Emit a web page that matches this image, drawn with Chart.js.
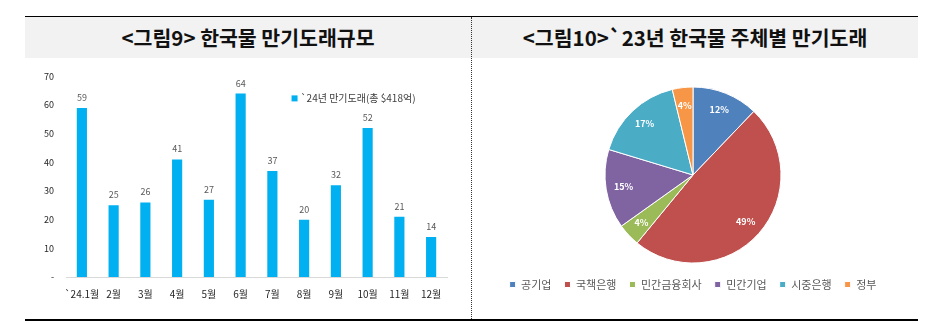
<!DOCTYPE html>
<html>
<head>
<meta charset="utf-8">
<script src="https://cdn.jsdelivr.net/npm/chart.js@4"></script>
<style>
  html, body { margin: 0; padding: 0; background: #fff; }
  body { width: 941px; height: 324px; position: relative; overflow: hidden; font-family: "Noto Sans CJK KR", sans-serif; }
  .rule-top { position: absolute; left: 25px; top: 16px; width: 893px; height: 0; border-top: 1px solid #000; }
  .rule-bottom { position: absolute; left: 25px; top: 319px; width: 893px; height: 0; border-top: 2px solid #000; }
  .band { position: absolute; left: 25px; top: 17px; width: 893px; height: 41px; background: #f2f2f2; }
  .sep { position: absolute; left: 471px; top: 17px; height: 302px; width: 0; border-left: 1px dotted #333; }
  .title { position: absolute; top: 17px; height: 41px; line-height: 41px; text-align: center;
           font-family: "Noto Sans CJK KR", sans-serif; font-weight: 700; font-size: 20.5px; color: #111; }
  #t1 { left: 25px; width: 446px; }
  #t2 { left: 472px; width: 446px; }
  .box { position: absolute; top: 59px; height: 259px; }
  #b1 { left: 25px; width: 445px; }
  #b2 { left: 472px; width: 446px; }
</style>
</head>
<body>
<div class="band"></div>
<div class="rule-top"></div>
<div class="rule-bottom"></div>
<div class="sep"></div>
<div class="title" id="t1">&lt;그림9&gt; 한국물 만기도래규모</div>
<div class="title" id="t2">&lt;그림10&gt;`23년 한국물 주체별 만기도래</div>
<div class="box" id="b1"><canvas id="barChart"></canvas></div>
<div class="box" id="b2"><canvas id="pieChart"></canvas></div>

<script>
// 그림9 - 월별 만기도래 (억달러)
const months = ['`24.1월', '2월', '3월', '4월', '5월', '6월', '7월', '8월', '9월', '10월', '11월', '12월'];
const maturity24 = [59, 25, 26, 41, 27, 64, 37, 20, 32, 52, 21, 14];
const barLegend = '`24년 만기도래(총 $418억)';
const yTicks = [0, 10, 20, 30, 40, 50, 60, 70];

// 그림10 - 주체별 비중 (%)
const issuers = ['공기업', '국책은행', '민간금융회사', '민간기업', '시중은행', '정부'];
const issuerShare = [12.2, 49.0, 4.2, 14.6, 16.6, 3.8];
const issuerColors = ['#4f81bd', '#c0504d', '#9bbb59', '#8064a2', '#4bacc6', '#f79646'];

const FONT = '"Noto Sans CJK KR", sans-serif';

// bar value labels + legend inside plot
const barLabels = {
  id: 'barLabels',
  afterDatasetsDraw(chart) {
    const ctx = chart.ctx;
    const meta = chart.getDatasetMeta(0);
    ctx.save();
    ctx.font = '9px ' + FONT;
    ctx.fillStyle = '#595959';
    ctx.textAlign = 'center';
    ctx.textBaseline = 'bottom';
    meta.data.forEach((bar, i) => {
      ctx.fillText(maturity24[i], bar.x, bar.y - 6);
    });

    // legend
    const area = chart.chartArea;
    const lx = area.left + (area.right - area.left) * 0.592;
    const ly = area.top + 22;
    ctx.fillStyle = '#00b0f0';
    ctx.fillRect(lx, ly - 3, 6, 6);
    ctx.font = '10px ' + FONT;
    ctx.fillStyle = '#404040';
    ctx.textAlign = 'left';
    ctx.textBaseline = 'middle';
    ctx.fillText(barLegend, lx + 9, ly);
    ctx.restore();
  }
};

new Chart(document.getElementById('barChart'), {
  type: 'bar',
  data: {
    labels: months,
    datasets: [{ label: barLegend, data: maturity24, backgroundColor: '#00b0f0',
                 categoryPercentage: 1, barPercentage: 0.32 }]
  },
  options: {
    responsive: true,
    maintainAspectRatio: false,
    animation: false,
    layout: { padding: { top: 11, right: 23, left: 0, bottom: 0 } },
    scales: {
      x: {
        grid: { display: false, drawTicks: false },
        border: { display: true, color: '#d9d9d9', width: 1 },
        ticks: { color: '#262626', font: { family: FONT, size: 10 }, padding: 11, maxRotation: 0, autoSkip: false },
        afterFit(scale) { scale.height = 41; }
      },
      y: {
        min: 0, max: 70,
        afterBuildTicks(scale) { scale.ticks = yTicks.map(v => ({ value: v })); },
        grid: { display: false, drawTicks: false },
        border: { display: false },
        ticks: { color: '#262626', font: { family: FONT, size: 9 }, padding: 12,
                 callback: v => v === 0 ? '-' : v },
        afterFit(scale) { scale.width = 41; }
      }
    },
    plugins: { legend: { display: false }, tooltip: { enabled: false } }
  },
  plugins: [barLabels]
});

// pie percent labels
const pieLabels = {
  id: 'pieLabels',
  afterDatasetsDraw(chart) {
    const ctx = chart.ctx;
    const meta = chart.getDatasetMeta(0);
    ctx.save();
    ctx.font = 'bold 9px ' + FONT;
    ctx.fillStyle = '#fff';
    ctx.textAlign = 'center';
    ctx.textBaseline = 'middle';
    meta.data.forEach((arc, i) => {
      const p = arc.getProps(['x', 'y', 'startAngle', 'endAngle', 'outerRadius'], true);
      const a = (p.startAngle + p.endAngle) / 2;
      const r = p.outerRadius * 0.8;
      ctx.fillText(Math.round(issuerShare[i]) + '%', p.x + Math.cos(a) * r, p.y + Math.sin(a) * r);
    });
    ctx.restore();
  }
};

new Chart(document.getElementById('pieChart'), {
  type: 'pie',
  data: {
    labels: issuers,
    datasets: [{ data: issuerShare, backgroundColor: issuerColors, borderColor: '#fff', borderWidth: 1 }]
  },
  options: {
    responsive: true,
    maintainAspectRatio: false,
    animation: false,
    radius: 88,
    layout: { padding: { top: 25, right: 4, left: 0, bottom: 18 } },
    plugins: {
      legend: {
        position: 'bottom',
        labels: { boxWidth: 6, boxHeight: 6, padding: 13, color: '#595959',
                  font: { family: FONT, size: 11 } }
      },
      tooltip: { enabled: false }
    }
  },
  plugins: [pieLabels]
});
</script>
</body>
</html>
